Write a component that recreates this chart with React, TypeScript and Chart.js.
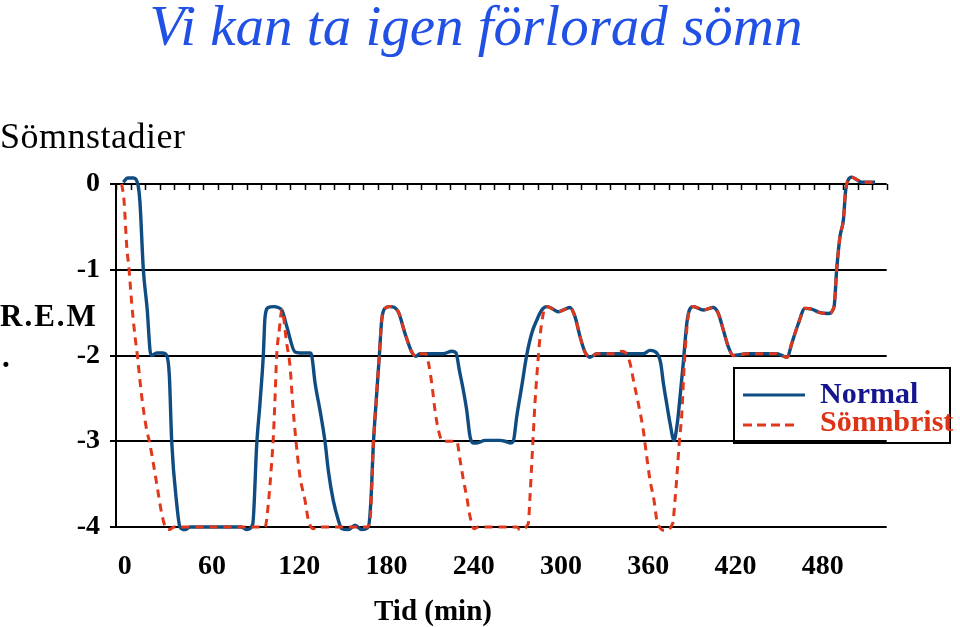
import React, { useEffect, useRef } from "react";
import { Chart, registerables } from "chart.js";

Chart.register(...registerables);

// ---- data (minutes, sleep stage) ----
const normalTime = [
  -1, 2, 6, 9, 10.5, 12.8, 15.5, 17.4, 18.6, 22, 26, 28.9, 30.7, 32.3, 35.7, 38, 41.5, 45,
  80, 84, 88, 90.8, 93, 95.3, 96.5, 98.8, 102.2, 108, 111.4, 117.1, 120.5, 127.4, 128.6,
  130.9, 134.3, 137.7, 140, 143.4, 146.9, 149.2, 153.8, 158.4, 163, 167.5, 169.2, 171,
  172.8, 175.1, 176.7, 179, 182.4, 188.1, 192.7, 197.4, 200.3, 203, 219, 224.9, 227.8,
  230.1, 232.8, 235.2, 237.5, 239.7, 242, 247.8, 258, 261.5, 265, 267.2, 269.6, 273,
  276.4, 279.9, 283.3, 286.8, 290.2, 293.6, 298.2, 302.8, 306.2, 309.7, 313.1, 316.5,
  320, 324.6, 356.6, 361.2, 365.8, 368.6, 370.4, 372.7, 375, 377.7, 380, 381.9, 384.1,
  386.5, 388.3, 391, 397.9, 404.8, 408.2, 411.6, 415.1, 418.5, 427.7, 448.3, 455.6,
  458.7, 463.2, 467.8, 472.4, 478.1, 483.8, 487.8, 489.6, 491.9, 494.2, 495.8, 497.6,
  499.9, 503.4, 506.8, 516,
];
const normalStage = [
  0.02, 0.07, 0.07, 0.0, -0.22, -1.0, -1.47, -1.94, -2.0, -1.97, -1.97, -2.0, -2.24, -3.0,
  -3.72, -4.0, -4.03, -4.0,
  -4.0, -4.03, -3.97, -3.03, -2.56, -2.0, -1.55, -1.44, -1.43, -1.47, -1.66, -1.96, -1.97,
  -1.97, -2.0,
  -2.32, -2.64, -3.0, -3.34, -3.69, -3.92, -4.02, -4.03, -3.98, -4.03, -4.0, -3.72, -3.03,
  -2.56, -2.0, -1.59, -1.45, -1.43, -1.49, -1.74, -1.96, -2.01, -1.98, -1.98, -1.95, -1.97,
  -2.17, -2.4, -2.64, -2.95, -3.02, -3.02, -2.99, -2.99, -3.0, -3.02, -3.0, -2.71, -2.36,
  -2.0, -1.74, -1.59, -1.47, -1.43, -1.45, -1.49, -1.46, -1.44, -1.55, -1.78, -1.96,
  -2.02, -1.98, -1.98, -1.94, -1.97, -2.09, -2.32, -2.56, -2.79, -2.99, -2.79, -2.48, -2.09,
  -1.63, -1.47, -1.43, -1.47, -1.44, -1.51, -1.7, -1.9, -2.0, -1.98, -1.98, -2.02,
  -1.86, -1.63, -1.45, -1.46, -1.5, -1.51, -1.43, -1.0, -0.61, -0.42, -0.07, 0.05,
  0.08, 0.05, 0.02, 0.02,
];

const sleepLossTime = [
  -2.1, -0.5, 1.4, 3, 4.8, 7.1, 8.7, 11.7, 15.1, 16.9, 19.7, 22.7, 25.4, 27.7, 30.7, 34,
  90.8, 96.5, 98.8, 101, 102.2, 103.4, 104.5, 106.3, 108, 111.4, 113.7, 115.5, 117.8,
  120.5, 124, 126.3, 129.7, 132, 166.4, 168.7, 171, 172.8, 175.1, 176.7, 179, 182.4,
  188.1, 192.7, 197.4, 200.3, 203, 207, 208.8, 211.1, 213.4, 215.7, 218.7, 228.3, 230.6,
  232.9, 235.2, 237.5, 240.2, 243, 269.6, 271.8, 277.5, 278.7, 279.9, 281, 282.1, 283.7,
  285.6, 287.4, 289, 290.2, 293.6, 298.2, 302.8, 306.2, 309.7, 313.1, 316.5, 320, 324.6,
  338, 341.8, 345, 347.5, 350.2, 353.2, 356.6, 358.9, 361.2, 364, 365.8, 368.6, 371.5,
  376.8, 378.4, 380, 381.4, 383, 384.6, 386.5, 388, 391, 397.9, 404.8, 408.2, 411.6,
  415.1, 418.5, 427.7, 448.3, 455.6, 458.7, 463.2, 467.8, 472.4, 478.1, 483.8, 487.8,
  489.6, 491.9, 494.2, 495.8, 497.6, 499.9, 503.4, 506.8, 516,
];
const sleepLossStage = [
  0.0, -0.19, -0.73, -1.0, -1.39, -1.78, -2.0, -2.48, -2.87, -3.0, -3.26, -3.57, -3.84,
  -3.99, -4.03, -4.0,
  -4.0, -4.0, -3.72, -3.26, -2.95, -2.48, -2.0, -1.7, -1.47, -1.86, -2.13, -2.56, -3.0,
  -3.41, -3.69, -3.92, -4.02, -4.0, -4.0, -3.92, -3.03, -2.56, -2.0, -1.59, -1.45, -1.43,
  -1.49, -1.74, -1.96, -2.01, -1.98, -1.98, -2.08, -2.32, -2.64, -2.87, -3.0, -3.0, -3.22,
  -3.45, -3.65, -3.88, -4.02, -4.0, -4.0, -4.03, -3.96, -3.65, -3.26, -2.91, -2.56, -2.17,
  -1.78, -1.55, -1.44, -1.43, -1.45, -1.49, -1.46, -1.44, -1.55, -1.78, -1.96, -2.02, -1.98,
  -1.98, -1.95, -1.98, -2.09, -2.32, -2.56, -2.87, -3.17, -3.45, -3.69, -3.91, -4.02, -4.04,
  -3.96, -3.69, -3.34, -3.0, -2.71, -2.17, -1.7, -1.49, -1.43, -1.47, -1.44, -1.51, -1.7,
  -1.9, -2.0, -1.98, -1.98, -2.02, -1.86, -1.63, -1.45, -1.46, -1.5, -1.51, -1.43,
  -1.0, -0.61, -0.42, -0.07, 0.05, 0.08, 0.05, 0.02, 0.02,
];

const xTickLabels = [0, 60, 120, 180, 240, 300, 360, 420, 480];
const yTickLabels = [0, -1, -2, -3, -4];
const xMin = -6;
const xMax = 524;
const topTickStep = 10;

const seriesNames = ["Normal", "Sömnbrist"];
const blue = "#0f4c81";
const red = "#e1381b";
const serif = "'Liberation Serif', 'Times New Roman', serif";

const topTicksPlugin = {
  id: "topTicks",
  beforeDatasetsDraw(chart: any) {
    const { ctx, chartArea, scales } = chart;
    const xs = scales.x;
    ctx.save();
    ctx.strokeStyle = "#000";
    ctx.lineWidth = 1.5;
    for (let v = xMin; v <= xMax + 0.001; v += topTickStep) {
      const px = Math.round(xs.getPixelForValue(v)) + 0.5;
      ctx.beginPath();
      ctx.moveTo(px, chartArea.top);
      ctx.lineTo(px, chartArea.top + 6);
      ctx.stroke();
    }
    ctx.restore();
  },
};

export default function App() {
  const ref = useRef<HTMLCanvasElement | null>(null);

  useEffect(() => {
    if (!ref.current) return;
    const normalPts = normalTime.map((t, i) => ({ x: t, y: normalStage[i] }));
    const lossPts = sleepLossTime.map((t, i) => ({ x: t, y: sleepLossStage[i] }));
    const chart = new Chart(ref.current, {
      type: "line",
      data: {
        datasets: [
          {
            label: seriesNames[1],
            data: lossPts,
            borderColor: red,
            borderWidth: 3,
            borderDash: [8, 6],
            pointRadius: 0,
            cubicInterpolationMode: "monotone",
            clip: false,
            order: 0,
          },
          {
            label: seriesNames[0],
            data: normalPts,
            borderColor: blue,
            borderWidth: 3.4,
            pointRadius: 0,
            cubicInterpolationMode: "monotone",
            clip: false,
            order: 1,
          },
        ],
      },
      options: {
        responsive: false,
        animation: false,
        devicePixelRatio: 1,
        layout: { padding: { top: 184, right: 73.3, left: 0, bottom: 0 } },
        plugins: { legend: { display: false }, tooltip: { enabled: false } },
        scales: {
          x: {
            type: "linear",
            min: xMin,
            max: xMax,
            afterBuildTicks: (s: any) => {
              s.ticks = xTickLabels.map((v) => ({ value: v }));
            },
            afterFit: (s: any) => {
              s.height = 100;
            },
            grid: { display: false, drawTicks: false },
            border: { display: false },
            ticks: {
              autoSkip: false,
              maxRotation: 0,
              padding: 23,
              color: "#000",
              font: { family: serif, size: 28, weight: "bold" },
            },
          },
          y: {
            min: -4,
            max: 0,
            afterBuildTicks: (s: any) => {
              s.ticks = yTickLabels.map((v) => ({ value: v }));
            },
            afterFit: (s: any) => {
              s.width = 116;
            },
            grid: { color: "#000", lineWidth: 2, tickLength: 6, drawTicks: true },
            border: { display: true, color: "#000", width: 2 },
            ticks: {
              padding: 10,
              color: "#000",
              font: { family: serif, size: 28, weight: "bold" },
            },
          },
        },
      },
      plugins: [topTicksPlugin],
    });
    return () => chart.destroy();
  }, []);

  const abs = (o: any) => ({ position: "absolute" as const, margin: 0, whiteSpace: "nowrap" as const, ...o });

  return (
    <div style={{ position: "absolute", left: 0, top: 0, width: 960, height: 627, background: "#fff", overflow: "hidden" }}>
      <canvas ref={ref} width={960} height={627} style={{ position: "absolute", left: 0, top: 0, width: 960, height: 627 }} />
      <div style={abs({ left: 0, width: 952, top: -3, textAlign: "center", fontFamily: serif, fontStyle: "italic", fontSize: 57, lineHeight: "57px", color: "#2150e4" })}>
        Vi kan ta igen förlorad sömn
      </div>
      <div style={abs({ left: 0, top: 118, fontFamily: serif, fontSize: 36, lineHeight: "36px", letterSpacing: 0.5, color: "#000" })}>
        Sömnstadier
      </div>
      <div style={abs({ left: 0, top: 300, fontFamily: serif, fontWeight: "bold", fontSize: 31, lineHeight: "31px", letterSpacing: 2, color: "#000" })}>
        R.E.M
      </div>
      <div style={abs({ left: 2, top: 341, fontFamily: serif, fontWeight: "bold", fontSize: 31, lineHeight: "31px", color: "#000" })}>
        .
      </div>
      <div style={abs({ left: 433, top: 596, transform: "translateX(-50%)", fontFamily: serif, fontWeight: "bold", fontSize: 29, lineHeight: "29px", color: "#000" })}>
        Tid (min)
      </div>
      <div style={abs({ left: 733, top: 367, width: 218, height: 77, boxSizing: "border-box", border: "2px solid #000" })} />
      <svg width={70} height={60} style={{ position: "absolute", left: 740, top: 380 }}>
        <line x1={3} y1={15} x2={65} y2={15} stroke={blue} strokeWidth={3.2} />
        <line x1={3} y1={45} x2={55} y2={45} stroke={red} strokeWidth={3} strokeDasharray="9 5" />
      </svg>
      <div style={abs({ left: 820, top: 378, fontFamily: serif, fontWeight: "bold", fontSize: 30, lineHeight: "30px", color: "#151590" })}>
        {seriesNames[0]}
      </div>
      <div style={abs({ left: 820, top: 406, fontFamily: serif, fontWeight: "bold", fontSize: 30, lineHeight: "30px", color: "#dd3316" })}>
        {seriesNames[1]}
      </div>
    </div>
  );
}
